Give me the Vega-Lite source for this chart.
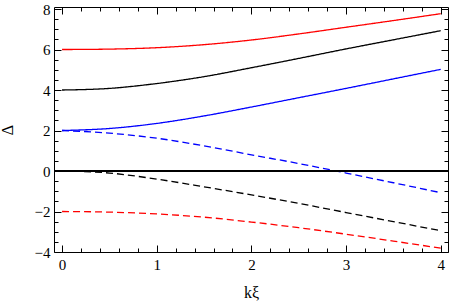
{
  "$schema": "https://vega.github.io/schema/vega-lite/v6.json",
  "width": 394,
  "height": 245,
  "autosize": "none",
  "padding": {"left": 54, "top": 7, "right": 2, "bottom": 52},
  "background": "white",
  "config": {
    "view": {"stroke": null},
    "font": "Liberation Serif",
    "axis": {
      "grid": false,
      "domainColor": "black",
      "domainWidth": 1,
      "tickColor": "black",
      "tickWidth": 1,
      "labelColor": "black",
      "labelFont": "Liberation Serif",
      "labelFontSize": 15,
      "titleFont": "Liberation Serif",
      "titleFontSize": 16,
      "titleFontWeight": "normal",
      "titleColor": "black",
      "labelOverlap": false,
      "labelFlush": false
    }
  },
  "data": {
    "values": [
      {"k": 0, "v": 6.00, "fam": "A", "sign": "+"},
      {"k": 0.5, "v": 6.02, "fam": "A", "sign": "+"},
      {"k": 1, "v": 6.09, "fam": "A", "sign": "+"},
      {"k": 1.5, "v": 6.24, "fam": "A", "sign": "+"},
      {"k": 2, "v": 6.47, "fam": "A", "sign": "+"},
      {"k": 2.5, "v": 6.77, "fam": "A", "sign": "+"},
      {"k": 3, "v": 7.10, "fam": "A", "sign": "+"},
      {"k": 3.5, "v": 7.43, "fam": "A", "sign": "+"},
      {"k": 4, "v": 7.77, "fam": "A", "sign": "+"},
      {"k": 0, "v": 4.00, "fam": "B", "sign": "+"},
      {"k": 0.5, "v": 4.08, "fam": "B", "sign": "+"},
      {"k": 1, "v": 4.32, "fam": "B", "sign": "+"},
      {"k": 1.5, "v": 4.66, "fam": "B", "sign": "+"},
      {"k": 2, "v": 5.10, "fam": "B", "sign": "+"},
      {"k": 2.5, "v": 5.56, "fam": "B", "sign": "+"},
      {"k": 3, "v": 6.03, "fam": "B", "sign": "+"},
      {"k": 3.5, "v": 6.48, "fam": "B", "sign": "+"},
      {"k": 4, "v": 6.93, "fam": "B", "sign": "+"},
      {"k": 0, "v": 2.00, "fam": "C", "sign": "+"},
      {"k": 0.5, "v": 2.10, "fam": "C", "sign": "+"},
      {"k": 1, "v": 2.35, "fam": "C", "sign": "+"},
      {"k": 1.5, "v": 2.72, "fam": "C", "sign": "+"},
      {"k": 2, "v": 3.16, "fam": "C", "sign": "+"},
      {"k": 2.5, "v": 3.62, "fam": "C", "sign": "+"},
      {"k": 3, "v": 4.08, "fam": "C", "sign": "+"},
      {"k": 3.5, "v": 4.55, "fam": "C", "sign": "+"},
      {"k": 4, "v": 5.02, "fam": "C", "sign": "+"},
      {"k": 0, "v": 2.00, "fam": "C", "sign": "-"},
      {"k": 0.5, "v": 1.87, "fam": "C", "sign": "-"},
      {"k": 1, "v": 1.62, "fam": "C", "sign": "-"},
      {"k": 1.5, "v": 1.24, "fam": "C", "sign": "-"},
      {"k": 2, "v": 0.80, "fam": "C", "sign": "-"},
      {"k": 2.5, "v": 0.37, "fam": "C", "sign": "-"},
      {"k": 3, "v": -0.10, "fam": "C", "sign": "-"},
      {"k": 3.5, "v": -0.58, "fam": "C", "sign": "-"},
      {"k": 4, "v": -1.07, "fam": "C", "sign": "-"},
      {"k": 0, "v": 0.00, "fam": "B", "sign": "-"},
      {"k": 0.5, "v": -0.10, "fam": "B", "sign": "-"},
      {"k": 1, "v": -0.40, "fam": "B", "sign": "-"},
      {"k": 1.5, "v": -0.78, "fam": "B", "sign": "-"},
      {"k": 2, "v": -1.18, "fam": "B", "sign": "-"},
      {"k": 2.5, "v": -1.60, "fam": "B", "sign": "-"},
      {"k": 3, "v": -2.05, "fam": "B", "sign": "-"},
      {"k": 3.5, "v": -2.50, "fam": "B", "sign": "-"},
      {"k": 4, "v": -2.95, "fam": "B", "sign": "-"},
      {"k": 0, "v": -2.00, "fam": "A", "sign": "-"},
      {"k": 0.5, "v": -2.03, "fam": "A", "sign": "-"},
      {"k": 1, "v": -2.12, "fam": "A", "sign": "-"},
      {"k": 1.5, "v": -2.28, "fam": "A", "sign": "-"},
      {"k": 2, "v": -2.52, "fam": "A", "sign": "-"},
      {"k": 2.5, "v": -2.80, "fam": "A", "sign": "-"},
      {"k": 3, "v": -3.12, "fam": "A", "sign": "-"},
      {"k": 3.5, "v": -3.46, "fam": "A", "sign": "-"},
      {"k": 4, "v": -3.81, "fam": "A", "sign": "-"}
    ]
  },
  "layer": [
    {
      "mark": {"type": "line", "interpolate": "monotone", "strokeWidth": 1.3, "clip": true},
      "encoding": {
        "x": {
          "field": "k", "type": "quantitative",
          "scale": {"domain": [-0.085, 4.077], "nice": false, "zero": false},
          "axis": {
            "orient": "bottom", "title": "kξ", "titlePadding": 9,
            "format": "~g",
            "values": [0,0.2,0.4,0.6,0.8,1,1.2,1.4,1.6,1.8,2,2.2,2.4,2.6,2.8,3,3.2,3.4,3.6,3.8,4],
            "labelExpr": "datum.value % 1 === 0 ? datum.label : ''",
            "tickSize": {"condition": {"test": "datum.value % 1 === 0", "value": -7}, "value": -4},
            "labelPadding": 12
          }
        },
        "y": {
          "field": "v", "type": "quantitative",
          "scale": {"domain": [-4.0, 8.1], "nice": false, "zero": false},
          "axis": {
            "orient": "left", "title": "Δ", "titlePadding": 19,
            "format": "~g",
            "values": [-4,-3.5,-3,-2.5,-2,-1.5,-1,-0.5,0,0.5,1,1.5,2,2.5,3,3.5,4,4.5,5,5.5,6,6.5,7,7.5,8],
            "labelExpr": "datum.value % 2 === 0 ? datum.label : ''",
            "tickSize": {"condition": {"test": "datum.value % 2 === 0", "value": -7}, "value": -4},
            "labelPadding": 11
          }
        },
        "color": {
          "field": "fam", "type": "nominal",
          "scale": {"domain": ["A", "B", "C"], "range": ["#ff0000", "#000000", "#0000ff"]},
          "legend": null
        },
        "strokeDash": {
          "field": "sign", "type": "nominal",
          "scale": {"domain": ["+", "-"], "range": [[1, 0], [7, 4]]},
          "legend": null
        }
      }
    },
    {
      "mark": {"type": "rule", "color": "black", "strokeWidth": 1},
      "encoding": {"y": {"datum": 0, "type": "quantitative", "axis": null}}
    },
    {
      "mark": {"type": "point", "opacity": 0},
      "encoding": {
        "x": {
          "field": "k", "type": "quantitative",
          "axis": {
            "orient": "top", "title": null, "labels": false,
            "values": [0,0.2,0.4,0.6,0.8,1,1.2,1.4,1.6,1.8,2,2.2,2.4,2.6,2.8,3,3.2,3.4,3.6,3.8,4],
            "tickSize": {"condition": {"test": "datum.value % 1 === 0", "value": -7}, "value": -4}
          }
        },
        "y": {
          "field": "v", "type": "quantitative",
          "axis": {
            "orient": "right", "title": null, "labels": false,
            "values": [-4,-3.5,-3,-2.5,-2,-1.5,-1,-0.5,0,0.5,1,1.5,2,2.5,3,3.5,4,4.5,5,5.5,6,6.5,7,7.5,8],
            "tickSize": {"condition": {"test": "datum.value % 2 === 0", "value": -7}, "value": -4}
          }
        }
      }
    }
  ],
  "resolve": {"axis": {"x": "independent", "y": "independent"}}
}
